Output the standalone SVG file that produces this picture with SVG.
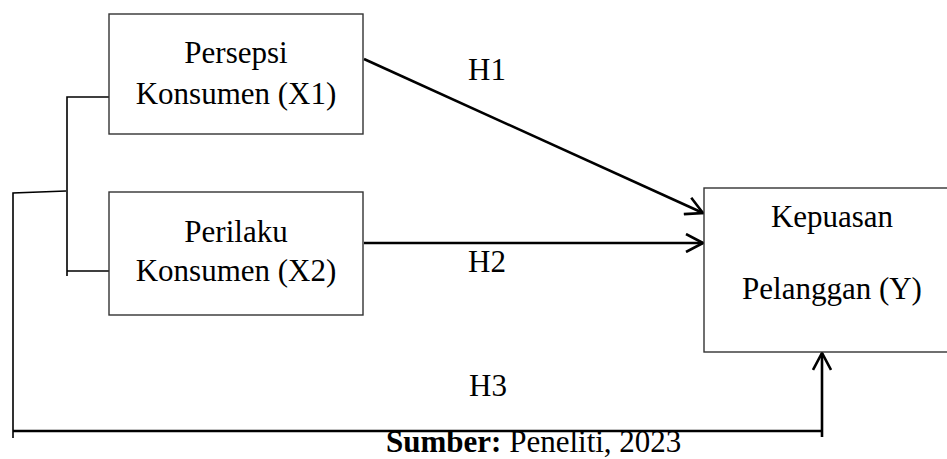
<svg xmlns="http://www.w3.org/2000/svg" width="947" height="459" viewBox="0 0 947 459">
  <style>
    .box { fill: #ffffff; stroke: #333333; stroke-width: 1.4; }
    .t { font-family: "Liberation Serif", "Times New Roman", serif; font-size: 31px; fill: #000000; }
    .link { fill: none; stroke: #000000; stroke-width: 1.6; }
    .arrow { fill: none; stroke: #000000; stroke-width: 2.6; }
  </style>
  <defs>
    <marker id="open" viewBox="0 0 20 20" refX="18" refY="10" markerWidth="20" markerHeight="20" markerUnits="userSpaceOnUse" orient="auto">
      <path d="M1,1 L18,10 L1,19" fill="none" stroke="#000000" stroke-width="2.6"/>
    </marker>
  </defs>
  <rect width="947" height="459" fill="#ffffff"/>

  <g id="connectors">
    <!-- bracket joining X1 and X2 -->
    <path class="link" d="M109,97 H67 V276 M67,271 H109"/>
    <!-- H3 path: from bracket down, along the bottom, up into Y -->
    <path class="link" d="M66,191 L13,193 V438"/>
    <path class="arrow" d="M13,431 H822"/>
    <path class="arrow" d="M822,437 V353" marker-end="url(#open)"/>
    <!-- H1 and H2 -->
    <path class="arrow" d="M364,59 L703,213" marker-end="url(#open)"/>
    <path class="arrow" d="M364,243 L703,243" marker-end="url(#open)"/>
  </g>

  <g id="x1">
    <rect class="box" x="109" y="14" width="254" height="120"/>
    <text class="t" x="236" y="63" text-anchor="middle">Persepsi</text>
    <text class="t" x="236" y="104" text-anchor="middle">Konsumen (X1)</text>
  </g>

  <g id="x2">
    <rect class="box" x="109" y="192" width="254" height="123"/>
    <text class="t" x="236" y="242" text-anchor="middle">Perilaku</text>
    <text class="t" x="236" y="281" text-anchor="middle">Konsumen (X2)</text>
  </g>

  <g id="y">
    <rect class="box" x="704" y="188" width="260" height="164"/>
    <text class="t" x="832" y="227" text-anchor="middle">Kepuasan</text>
    <text class="t" x="832" y="299" text-anchor="middle">Pelanggan (Y)</text>
  </g>

  <g id="labels">
    <text class="t" x="487" y="80" text-anchor="middle">H1</text>
    <text class="t" x="487" y="272" text-anchor="middle">H2</text>
    <text class="t" x="488" y="396" text-anchor="middle">H3</text>
    <text class="t" x="386" y="452"><tspan font-weight="bold">Sumber:</tspan> Peneliti, 2023</text>
  </g>
</svg>
